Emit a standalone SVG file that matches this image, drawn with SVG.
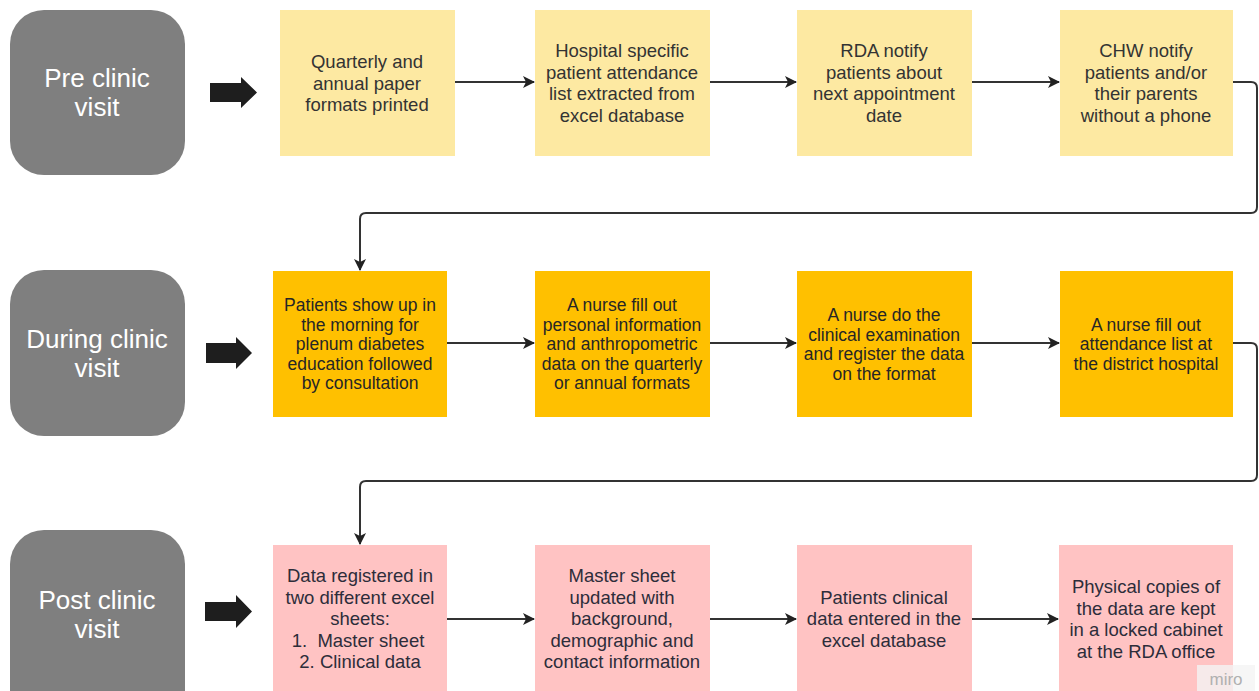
<svg xmlns="http://www.w3.org/2000/svg" width="1259" height="691" viewBox="0 0 1259 691">
<style>
.phase{fill:#7f7f7f}
.phase-t{font-family:"Liberation Sans",Arial,sans-serif;font-size:26px;fill:#ffffff;text-anchor:middle}
.y1{fill:#fde9a2}
.y2{fill:#ffc000}
.p3{fill:#ffc3c3}
.t{font-family:"Liberation Sans",Arial,sans-serif;text-anchor:middle;fill:#333333}
.t1{font-size:18.5px}
.t2{font-size:17.5px;fill:#262626}
.t3{font-size:18.5px;fill:#2d2d3a}
.conn{fill:none;stroke:#333333;stroke-width:2}
.blk{fill:#1e1e1e}
</style>
<defs>
<marker id="ah" viewBox="0 0 12 12" refX="11" refY="6" markerWidth="12" markerHeight="12" markerUnits="userSpaceOnUse" orient="auto">
<path d="M0,0 L12,6 L0,12 L3,6 Z" fill="#222222"/>
</marker>
</defs>
<rect width="1259" height="691" fill="#ffffff"/>

<g id="phase-pre">
<rect class="phase" x="10" y="10" width="175" height="165" rx="34"/>
<text class="phase-t" x="97" y="87">Pre clinic</text>
<text class="phase-t" x="97" y="116">visit</text>
<polygon class="blk" points="210,83 241,83 241,77 257,92.5 241,108 241,102 210,102"/>
</g>
<g id="phase-during">
<rect class="phase" x="10" y="270" width="175" height="166" rx="34"/>
<text class="phase-t" x="97" y="348">During clinic</text>
<text class="phase-t" x="97" y="377">visit</text>
<polygon class="blk" points="206,343 236,343 236,337 252,353 236,369 236,363 206,363"/>
</g>
<g id="phase-post">
<rect class="phase" x="10" y="530" width="175" height="200" rx="34"/>
<text class="phase-t" x="97" y="609">Post clinic</text>
<text class="phase-t" x="97" y="638">visit</text>
<polygon class="blk" points="205,602 236,602 236,595 252,611.5 236,628 236,621 205,621"/>
</g>

<g id="n1">
<rect class="y1" x="280" y="10" width="175" height="146"/>
<text class="t t1" x="367" y="68">Quarterly and</text>
<text class="t t1" x="367" y="89.5">annual paper</text>
<text class="t t1" x="367" y="111">formats printed</text>
</g>
<g id="n2">
<rect class="y1" x="535" y="10" width="175" height="146"/>
<text class="t t1" x="622" y="57">Hospital specific</text>
<text class="t t1" x="622" y="78.5">patient attendance</text>
<text class="t t1" x="622" y="100">list extracted from</text>
<text class="t t1" x="622" y="121.5">excel database</text>
</g>
<g id="n3">
<rect class="y1" x="797" y="10" width="175" height="146"/>
<text class="t t1" x="884" y="57">RDA notify</text>
<text class="t t1" x="884" y="78.5">patients about</text>
<text class="t t1" x="884" y="100">next appointment</text>
<text class="t t1" x="884" y="121.5">date</text>
</g>
<g id="n4">
<rect class="y1" x="1060" y="10" width="173" height="146"/>
<text class="t t1" x="1146" y="57">CHW notify</text>
<text class="t t1" x="1146" y="78.5">patients and/or</text>
<text class="t t1" x="1146" y="100">their parents</text>
<text class="t t1" x="1146" y="121.5">without a phone</text>
</g>

<g id="n5">
<rect class="y2" x="273" y="271" width="174" height="146"/>
<text class="t t2" x="360" y="311">Patients show up in</text>
<text class="t t2" x="360" y="330.5">the morning for</text>
<text class="t t2" x="360" y="350">plenum diabetes</text>
<text class="t t2" x="360" y="369.5">education followed</text>
<text class="t t2" x="360" y="389">by consultation</text>
</g>
<g id="n6">
<rect class="y2" x="535" y="271" width="175" height="146"/>
<text class="t t2" x="622" y="311">A nurse fill out</text>
<text class="t t2" x="622" y="330.5">personal information</text>
<text class="t t2" x="622" y="350">and anthropometric</text>
<text class="t t2" x="622" y="369.5">data on the quarterly</text>
<text class="t t2" x="622" y="389">or annual formats</text>
</g>
<g id="n7">
<rect class="y2" x="797" y="271" width="175" height="146"/>
<text class="t t2" x="884" y="321">A nurse do the</text>
<text class="t t2" x="884" y="340.5">clinical examination</text>
<text class="t t2" x="884" y="360">and register the data</text>
<text class="t t2" x="884" y="379.5">on the format</text>
</g>
<g id="n8">
<rect class="y2" x="1060" y="271" width="173" height="146"/>
<text class="t t2" x="1146" y="330.5">A nurse fill out</text>
<text class="t t2" x="1146" y="350">attendance list at</text>
<text class="t t2" x="1146" y="369.5">the district hospital</text>
</g>

<g id="n9">
<rect class="p3" x="273" y="545" width="174" height="160"/>
<text class="t t3" x="360" y="582">Data registered in</text>
<text class="t t3" x="360" y="603.5">two different excel</text>
<text class="t t3" x="360" y="625">sheets:</text>
<text class="t t3" x="358" y="646.5">1.&#160; Master sheet</text>
<text class="t t3" x="360" y="668">2. Clinical data</text>
</g>
<g id="n10">
<rect class="p3" x="535" y="545" width="175" height="160"/>
<text class="t t3" x="622" y="582">Master sheet</text>
<text class="t t3" x="622" y="603.5">updated with</text>
<text class="t t3" x="622" y="625">background,</text>
<text class="t t3" x="622" y="646.5">demographic and</text>
<text class="t t3" x="622" y="668">contact information</text>
</g>
<g id="n11">
<rect class="p3" x="797" y="545" width="175" height="160"/>
<text class="t t3" x="884" y="603.5">Patients clinical</text>
<text class="t t3" x="884" y="625">data entered in the</text>
<text class="t t3" x="884" y="646.5">excel database</text>
</g>
<g id="n12">
<rect class="p3" x="1059" y="545" width="174" height="160"/>
<text class="t t3" x="1146" y="593">Physical copies of</text>
<text class="t t3" x="1146" y="614.5">the data are kept</text>
<text class="t t3" x="1146" y="636">in a locked cabinet</text>
<text class="t t3" x="1146" y="657.5">at the RDA office</text>
</g>

<g id="connectors">
<path class="conn" d="M455,82 L534,82" marker-end="url(#ah)"/>
<path class="conn" d="M710,82 L796,82" marker-end="url(#ah)"/>
<path class="conn" d="M972,82 L1059,82" marker-end="url(#ah)"/>
<path class="conn" d="M1233,82 L1251,82 Q1257,82 1257,88 L1257,207 Q1257,213 1251,213 L366,213 Q360,213 360,219 L360,270" marker-end="url(#ah)"/>
<path class="conn" d="M447,343 L534,343" marker-end="url(#ah)"/>
<path class="conn" d="M710,343 L796,343" marker-end="url(#ah)"/>
<path class="conn" d="M972,343 L1059,343" marker-end="url(#ah)"/>
<path class="conn" d="M1233,343 L1251,343 Q1257,343 1257,349 L1257,475 Q1257,481 1251,481 L366,481 Q360,481 360,487 L360,544" marker-end="url(#ah)"/>
<path class="conn" d="M447,619 L534,619" marker-end="url(#ah)"/>
<path class="conn" d="M710,619 L796,619" marker-end="url(#ah)"/>
<path class="conn" d="M972,619 L1058,619" marker-end="url(#ah)"/>
</g>

<g id="watermark">
<rect x="1197" y="665" width="58" height="26" fill="#f4f4f4" opacity="0.8"/>
<text x="1226" y="685" font-family="'Liberation Sans',Arial,sans-serif" font-size="17" fill="#b0b0b0" text-anchor="middle">miro</text>
</g>
</svg>
